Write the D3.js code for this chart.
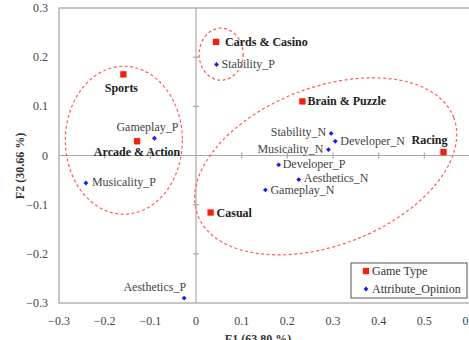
<!DOCTYPE html>
<html>
<head>
<meta charset="utf-8">
<script src="https://cdn.jsdelivr.net/npm/d3@7/dist/d3.min.js"></script>
<style>
  html, body { margin: 0; padding: 0; background: #fff; }
  svg { display: block; }
</style>
</head>
<body>
<svg id="chart" width="469" height="340"></svg>
<script>
// Correspondence analysis map: game types vs. attribute opinions
const names = ["Sports", "Arcade & Action", "Cards & Casino", "Brain & Puzzle", "Racing", "Casual",
  "Stability_P", "Gameplay_P", "Musicality_P", "Aesthetics_P", "Stability_N", "Developer_N",
  "Musicality_N", "Developer_P", "Aesthetics_N", "Gameplay_N"];
const f1 = [-0.159, -0.129, 0.044, 0.233, 0.542, 0.032,
  0.045, -0.091, -0.241, -0.026, 0.296, 0.305,
  0.290, 0.181, 0.225, 0.152];
const f2 = [0.165, 0.029, 0.231, 0.110, 0.007, -0.116,
  0.185, 0.035, -0.056, -0.290, 0.045, 0.029,
  0.012, -0.019, -0.049, -0.070];
const groups = ["Game Type", "Game Type", "Game Type", "Game Type", "Game Type", "Game Type",
  "Attribute_Opinion", "Attribute_Opinion", "Attribute_Opinion", "Attribute_Opinion", "Attribute_Opinion",
  "Attribute_Opinion", "Attribute_Opinion", "Attribute_Opinion", "Attribute_Opinion", "Attribute_Opinion"];
const xTicks = [-0.3, -0.2, -0.1, 0, 0.1, 0.2, 0.3, 0.4, 0.5, 0.6];
const yTicks = [-0.3, -0.2, -0.1, 0, 0.1, 0.2, 0.3];
const legendItems = ["Game Type", "Attribute_Opinion"];

// Cluster outlines: centre in data units, half-axes in pixels, rotation in degrees
const clusters = [
  { cx: -0.158, cy: 0.031, rx: 58.5, ry: 74, rot: 0 },
  { cx: 0.055, cy: 0.206, rx: 22, ry: 26, rot: 0 },
  { cx: 0.284, cy: -0.022, rx: 137, ry: 79, rot: -20.9 }
];

// Label placement per point: [text-anchor, dx, dy]
const labelPlace = {
  "Sports": ["middle", -2, 18],
  "Arcade & Action": ["middle", 0, 15],
  "Cards & Casino": ["start", 9, 4],
  "Brain & Puzzle": ["start", 5, 4],
  "Racing": ["end", 4, -8],
  "Casual": ["start", 6, 4],
  "Stability_P": ["start", 5, 3],
  "Gameplay_P": ["middle", -7, -7],
  "Musicality_P": ["start", 6, 3],
  "Aesthetics_P": ["end", 2, -7],
  "Stability_N": ["end", -5, 3],
  "Developer_N": ["start", 5, 4],
  "Musicality_N": ["end", -5, 3],
  "Developer_P": ["start", 4, 3],
  "Aesthetics_N": ["start", 5, 2],
  "Gameplay_N": ["start", 5, 4]
};

const FONT = "Liberation Serif";
const svg = d3.select("#chart");
const plotL = 59, plotR = 470, plotT = 8, plotB = 303;
const x = d3.scaleLinear().domain([-0.3, 0.6]).range([plotL, plotR]);
const y = d3.scaleLinear().domain([-0.3, 0.3]).range([plotB, plotT]);
const color = d3.scaleOrdinal().domain(legendItems).range(["#ff1a0a", "#1a1aff"]);

// Plot frame
svg.append("rect")
  .attr("x", plotL).attr("y", plotT)
  .attr("width", plotR - plotL).attr("height", plotB - plotT)
  .attr("fill", "none").attr("stroke", "#b4b4b4").attr("stroke-width", 1.5);

// Zero lines with crossing tick marks
const axisG = svg.append("g").attr("stroke", "#a8a8a8").attr("stroke-width", 1.2);
axisG.append("line").attr("x1", plotL).attr("x2", plotR).attr("y1", y(0)).attr("y2", y(0));
axisG.append("line").attr("x1", x(0)).attr("x2", x(0)).attr("y1", plotT).attr("y2", plotB);
axisG.selectAll(".xt").data(xTicks.filter(d => d !== 0 && d > -0.3 && d < 0.6)).join("line")
  .attr("x1", d => x(d)).attr("x2", d => x(d))
  .attr("y1", y(0) - 3).attr("y2", y(0) + 3);
axisG.selectAll(".yt").data(yTicks.filter(d => d !== 0 && d > -0.3 && d < 0.3)).join("line")
  .attr("y1", d => y(d)).attr("y2", d => y(d))
  .attr("x1", x(0) - 3).attr("x2", x(0) + 3);

// Tick labels
const fmt = d => (d === 0 ? "0" : d3.format(".1f")(d));
svg.selectAll(".xl").data(xTicks).join("text")
  .attr("x", d => x(d)).attr("y", 325)
  .attr("text-anchor", "middle").attr("font-family", FONT).attr("font-size", 12).attr("fill", "#444")
  .text(fmt);
svg.selectAll(".yl").data(yTicks).join("text")
  .attr("x", 48).attr("y", d => y(d) + 4)
  .attr("text-anchor", "end").attr("font-family", FONT).attr("font-size", 12).attr("fill", "#444")
  .text(fmt);

// Axis titles
svg.append("text")
  .attr("x", 258).attr("y", 343)
  .attr("text-anchor", "middle").attr("font-family", FONT).attr("font-size", 12)
  .attr("font-weight", "bold").attr("fill", "#333")
  .text("F1 (63.80 %)");
svg.append("text")
  .attr("transform", "translate(24,166) rotate(-90)")
  .attr("text-anchor", "middle").attr("font-family", FONT).attr("font-size", 12)
  .attr("font-weight", "bold").attr("fill", "#333")
  .text("F2 (30.66 %)");

// Cluster outlines
svg.selectAll(".cluster").data(clusters).join("ellipse")
  .attr("transform", d => `translate(${x(d.cx)},${y(d.cy)}) rotate(${d.rot})`)
  .attr("rx", d => d.rx).attr("ry", d => d.ry)
  .attr("fill", "none").attr("stroke", "#ff5a5a").attr("stroke-width", 1.2)
  .attr("stroke-dasharray", "3,2.5");

// Points
const pts = names.map((n, i) => ({ name: n, f1: f1[i], f2: f2[i], group: groups[i] }));
const sq = d3.symbol().type(d3.symbolSquare).size(40);
const dia = d3.symbol().type(d3.symbolDiamond2).size(15);
svg.selectAll(".pt").data(pts).join("path")
  .attr("transform", d => `translate(${x(d.f1)},${y(d.f2)})`)
  .attr("d", d => (d.group === "Game Type" ? sq() : dia()))
  .attr("fill", d => color(d.group));

svg.selectAll(".lbl").data(pts).join("text")
  .attr("x", d => x(d.f1) + labelPlace[d.name][1])
  .attr("y", d => y(d.f2) + labelPlace[d.name][2])
  .attr("text-anchor", d => labelPlace[d.name][0])
  .attr("font-family", FONT)
  .attr("font-size", 12)
  .attr("font-weight", d => (d.group === "Game Type" ? "bold" : "normal"))
  .attr("fill", d => (d.group === "Game Type" ? "#222" : "#444"))
  .text(d => d.name);

// Legend
const lg = svg.append("g");
lg.append("rect").attr("x", 351).attr("y", 263).attr("width", 116).attr("height", 35)
  .attr("fill", "#fff").attr("stroke", "#555").attr("stroke-width", 1);
legendItems.forEach((item, i) => {
  const cy = 271 + i * 18;
  lg.append("path")
    .attr("transform", `translate(366,${cy})`)
    .attr("d", i === 0 ? sq() : dia())
    .attr("fill", color(item));
  lg.append("text").attr("x", 372).attr("y", cy + 4)
    .attr("font-family", FONT).attr("font-size", 12).attr("fill", "#333").text(item);
});
</script>
</body>
</html>
